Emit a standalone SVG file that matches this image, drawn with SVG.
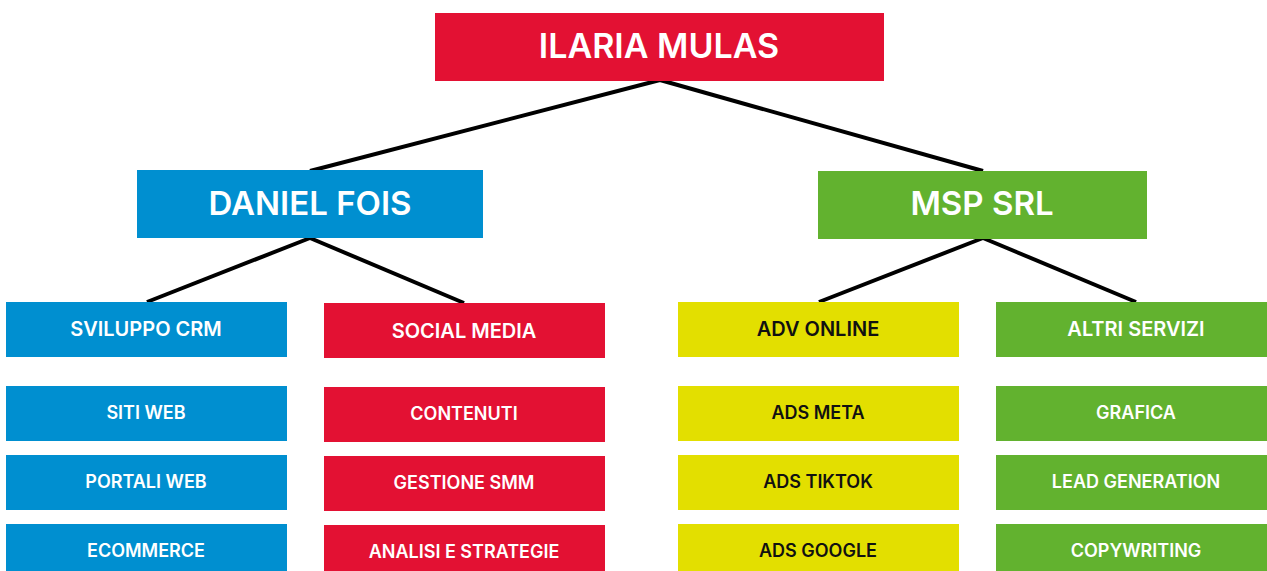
<svg xmlns="http://www.w3.org/2000/svg" width="1267" height="571" viewBox="0 0 1267 571">
<style>
text{font-family:Inter,"Open Sans","Liberation Sans",sans-serif;font-weight:600;text-anchor:middle;fill:#fff}
.red{fill:#E31133}.blue{fill:#008FD0}.green{fill:#62B22F}.yellow{fill:#E3DF00}
.t1{font-size:34px}.t2{font-size:33px}.t3{font-size:20px}.t4{font-size:18px}
.dk{fill:#111}
.conn line{stroke:#000;stroke-width:4}
</style>
<rect width="1267" height="571" fill="#fff"/>
<g class="conn">
<line x1="660" y1="80" x2="310" y2="171"/>
<line x1="660" y1="80" x2="983" y2="171"/>
<line x1="310" y1="238" x2="147" y2="302"/>
<line x1="310" y1="238" x2="464" y2="303"/>
<line x1="983" y1="238" x2="819" y2="302"/>
<line x1="983" y1="238" x2="1136" y2="302"/>
</g>
<g id="ilaria"><rect class="red" x="435" y="13" width="449" height="68"/><text class="t1" x="659" y="57.5">ILARIA MULAS</text></g>
<g id="daniel"><rect class="blue" x="137" y="170" width="346" height="68"/><text class="t2" x="310" y="214.5">DANIEL FOIS</text></g>
<g id="msp"><rect class="green" x="818" y="171" width="329" height="68"/><text class="t2" x="982" y="215">MSP SRL</text></g>

<g id="crm"><rect class="blue" x="6" y="302" width="281" height="55"/><text class="t3" x="146" y="336">SVILUPPO CRM</text></g>
<g id="siti"><rect class="blue" x="6" y="386" width="281" height="55"/><text class="t4" x="146" y="419">SITI WEB</text></g>
<g id="portali"><rect class="blue" x="6" y="455" width="281" height="55"/><text class="t4" x="146" y="488">PORTALI WEB</text></g>
<g id="ecommerce"><rect class="blue" x="6" y="524" width="281" height="50"/><text class="t4" x="146" y="557">ECOMMERCE</text></g>

<g id="social"><rect class="red" x="324" y="303" width="281" height="55"/><text class="t3" x="464" y="337.5">SOCIAL MEDIA</text></g>
<g id="contenuti"><rect class="red" x="324" y="387" width="281" height="55"/><text class="t4" x="464" y="420">CONTENUTI</text></g>
<g id="gestione"><rect class="red" x="324" y="456" width="281" height="55"/><text class="t4" x="464" y="489">GESTIONE SMM</text></g>
<g id="analisi"><rect class="red" x="324" y="525" width="281" height="50"/><text class="t4" x="464" y="558">ANALISI E STRATEGIE</text></g>

<g id="adv"><rect class="yellow" x="678" y="302" width="281" height="55"/><text class="t3 dk" x="818" y="336">ADV ONLINE</text></g>
<g id="meta"><rect class="yellow" x="678" y="386" width="281" height="55"/><text class="t4 dk" x="818" y="419">ADS META</text></g>
<g id="tiktok"><rect class="yellow" x="678" y="455" width="281" height="55"/><text class="t4 dk" x="818" y="488">ADS TIKTOK</text></g>
<g id="google"><rect class="yellow" x="678" y="524" width="281" height="50"/><text class="t4 dk" x="818" y="557">ADS GOOGLE</text></g>

<g id="altri"><rect class="green" x="996" y="302" width="281" height="55"/><text class="t3" x="1136" y="336">ALTRI SERVIZI</text></g>
<g id="grafica"><rect class="green" x="996" y="386" width="281" height="55"/><text class="t4" x="1136" y="419">GRAFICA</text></g>
<g id="lead"><rect class="green" x="996" y="455" width="281" height="55"/><text class="t4" x="1136" y="488">LEAD GENERATION</text></g>
<g id="copy"><rect class="green" x="996" y="524" width="281" height="50"/><text class="t4" x="1136" y="557">COPYWRITING</text></g>
</svg>
